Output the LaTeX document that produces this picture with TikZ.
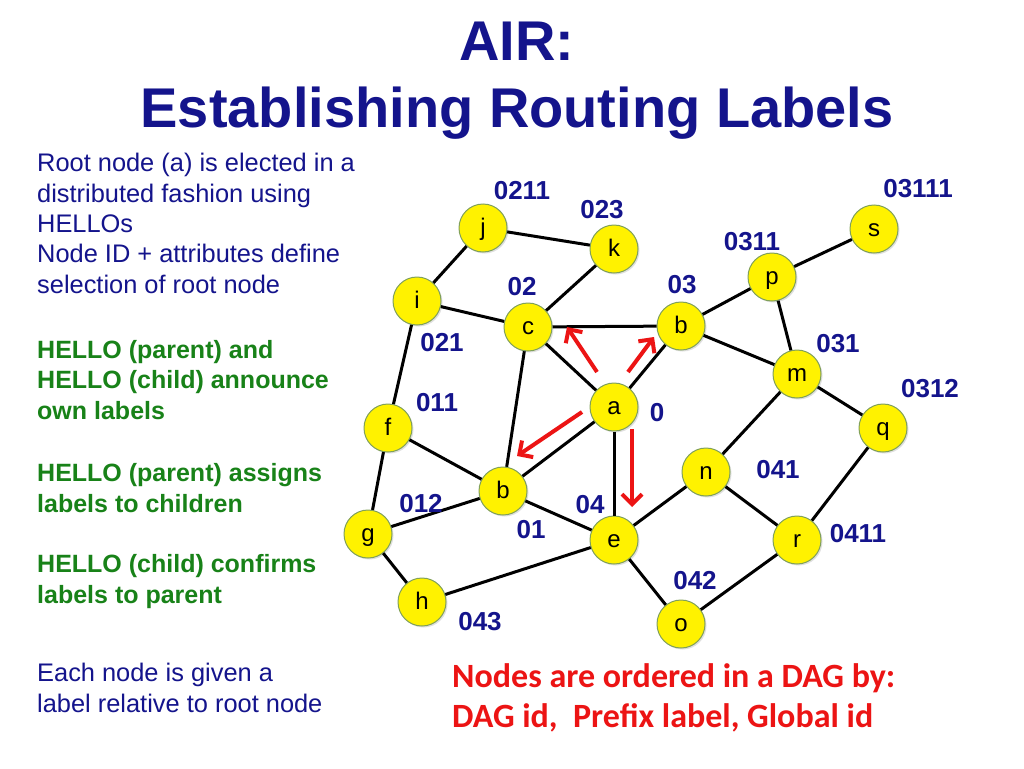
\documentclass[tikz,border=0pt]{standalone}
\usepackage{fontspec}
\setmainfont{Liberation Sans}
\newfontfamily\calibrifont{Carlito}
\usetikzlibrary{arrows.meta,shadows}
\definecolor{airnavy}{RGB}{20,20,140}
\definecolor{airgreen}{RGB}{24,130,24}
\definecolor{airred}{RGB}{236,20,20}
\definecolor{airrim}{RGB}{128,160,90}

\begin{document}
\begin{tikzpicture}[x=1pt,y=-1pt,
    router/.style={circle,draw=airrim,line width=1pt,fill=yellow,minimum size=48pt,inner sep=0pt,
      font=\fontsize{24}{28}\selectfont,text height=16pt,text depth=2pt,
      drop shadow={opacity=0.25,shadow xshift=1.5pt,shadow yshift=-1.5pt}},
    routelabel/.style={text=airnavy,font=\fontsize{26}{30}\selectfont\bfseries,inner sep=0pt},
    link/.style={black,line width=3pt},
    flow/.style={airred,line width=4pt,-{Straight Barb[length=10pt,width=20pt]}},
    note/.style={anchor=base west,align=left,inner sep=0pt,font=\fontsize{25.4}{30.3}\selectfont}]
    \useasboundingbox (0,0) rectangle (1024,768);
    \fill [white] (0,0) rectangle (1024,768);
    % title (anchored on the baseline of its last line)
    \node [text=airnavy,anchor=base,align=center,inner sep=0pt,
      font=\fontsize{56}{67}\selectfont\bfseries] (title) at (517,127) {AIR:\\Establishing Routing Labels};
    % left hand notes
    \node [note,text=airnavy] (elect) at (37,293) {Root node (a) is elected in a\\distributed fashion using\\HELLOs\\Node ID + attributes define\\selection of root node};
    \node [note,text=airgreen,font=\fontsize{25}{30.5}\selectfont\bfseries] (announce) at (37,419) {HELLO (parent) and\\HELLO (child) announce\\own labels};
    \node [note,text=airgreen,font=\fontsize{25}{30.5}\selectfont\bfseries] (assign) at (37,512) {HELLO (parent) assigns\\labels to children};
    \node [note,text=airgreen,font=\fontsize{25}{30.5}\selectfont\bfseries] (confirm) at (37,603) {HELLO (child) confirms\\labels to parent};
    \node [note,text=airnavy] (relative) at (37,712) {Each node is given a\\label relative to root node};
    % DAG ordering
    \node [note,text=airred,font=\fontsize{34}{40}\selectfont\calibrifont\bfseries] (order) at (452,727) {Nodes are ordered in a DAG by:\\DAG id,\ \ Prefix label, Global id};
    % routers
    \foreach \id/\x/\y/\ch in {j/483/228/j, k/614/249/k, i/417/301/i, c/528/327/c, b3/681/326/b,
        p/772/277/p, s/874/229/s, m/797/374/m, q/883/428/q, n/706/472/n, r/797/540/r,
        o/681/624/o, a/614/407/a, f/388/428/f, b1/503/491/b, g/368/534/g, e/614/540/e, h/422/602/h}
      \node [router] (\id) at (\x,\y) {\ch};
    % links
    \foreach \u/\v in {j/k, j/i, k/c, i/c, i/f, c/b1, c/b3, c/a, b3/a, b3/p, b3/m, p/s, p/m,
        m/q, m/n, n/e, n/r, q/r, r/o, o/e, a/e, a/b1, f/b1, f/g, g/b1, g/h, h/e, b1/e}
      \draw [link] (\u) -- (\v);
    % prefix labels
    \foreach \id/\x/\y in {0211/522/191, 023/602/210, 02/522/287, 03/682/285, 021/442/343,
        03111/918/189, 0311/752/242, 031/838/344, 0312/930/389, 0/657/413, 041/778/470,
        0411/858/534, 042/695/581, 011/437/403, 012/421/504, 04/590/505, 01/531/530, 043/480/622}
      \node [routelabel] (lab\id) at (\x,\y) {\id};
    % label assignment from the root
    \coordinate (tailc) at (597,372);
    \coordinate (tipc) at (567,327);
    \coordinate (tailb) at (628,372);
    \coordinate (tipb) at (654,337);
    \coordinate (tailbl) at (582,412);
    \coordinate (tipbl) at (517,456);
    \coordinate (taile) at (632,429);
    \coordinate (tipe) at (632,507);
    \draw [flow] (tailc) -- (tipc);
    \draw [flow] (tailb) -- (tipb);
    \draw [flow] (tailbl) -- (tipbl);
    \draw [flow] (taile) -- (tipe);
\end{tikzpicture}
\end{document}
